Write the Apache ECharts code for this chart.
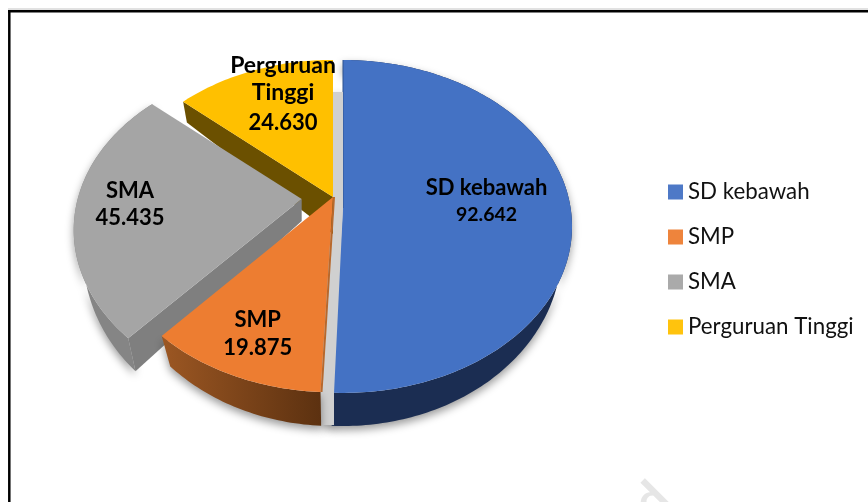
<!DOCTYPE html>
<html>
<head>
<meta charset="utf-8">
<style>
  html, body { margin: 0; padding: 0; background: #fff; }
  #chart { width: 868px; height: 502px; }
</style>
<script src="https://cdn.jsdelivr.net/npm/echarts@6/dist/echarts.min.js"></script>
</head>
<body>
<div id="chart"></div>
<script>
const categories = ['SD kebawah', 'SMP', 'SMA', 'Perguruan Tinggi']
const values = [92642, 19875, 45435, 24630]

const topColors = ['#4472c4', '#ed7d31', '#a5a5a5', '#ffc000']
const seriesOrder = [2, 5, 4, 3] // who is painted over who

// each slice is exploded by hand, with its own perspective fit
const sliceLayout = [
  { cx: 343, cy: 208, s: 227.6, b: 164.4, k: 0.111, dy: 22, fx: 0.955, fy: 1.06 },
  { cx: 333, cy: 197, s: 227.5, b: 165.4, k: 0.153, dy: 22, fx: 0.95, fy: 1.06 },
  { cx: 301.7, cy: 199, s: 224, b: 161, k: 0.186, dy: 22, fx: 0.958, fy: 1.08 },
  { cx: 333, cy: 197, s: 222, b: 160, k: 0.167, dy: 37, fx: 0.975, fy: 1.17 }
]
const sideFills = [
  '#1b2d52',
  { type: 'linear', x: 0, y: 0, x2: 1, y2: 0, colorStops: [{ offset: 0, color: '#9c5723' }, { offset: 1, color: '#5c3110' }] },
  '#858585',
  '#6b5000'
]
const cutFills = [null, null, '#7f7f7f', '#6b5000']
const edgeLines = [{ color: '#2f528f', width: 1, shift: 0 }, { color: '#b8682c', width: 2, shift: 1 }, null, null]
const labelLayout = [
  { x: 486.5, nameY: [188], valueY: 215, nameSize: 22, valueSize: 19.5 },
  { x: 257.7, nameY: [320], valueY: 348, nameSize: 22, valueSize: 22 },
  { x: 130, nameY: [191], valueY: 218, nameSize: 22, valueSize: 22 },
  { x: 283, nameY: [66, 93], valueY: 123, nameSize: 23, valueSize: 22 }
]
const labelLines = [['SD kebawah'], ['SMP'], ['SMA'], ['Perguruan', 'Tinggi']]

const total = values.reduce((a, b) => a + b, 0)
const RAD = Math.PI / 180
const stripPoints = [[333, 92], [343, 92], [343, 208], [334, 393], [334, 425], [322, 425], [320, 390], [333, 197]]

function startAngle(idx) {
  let sum = 0
  for (let i = 0; i < idx; i++) sum += values[i]
  return (sum / total) * 360
}

function project(l, deg, bottom) {
  const u = Math.sin(deg * RAD)
  const v = -Math.cos(deg * RAD)
  const d = 1 - l.k * v
  const x = (u * l.s) / d
  const y = (v * l.b) / d
  if (bottom) return [l.cx + x * l.fx, l.cy + l.dy + y * l.fy]
  return [l.cx + x, l.cy + y]
}

function arc(l, from, to, bottom) {
  const pts = []
  const n = Math.ceil(to - from)
  for (let i = 0; i <= n; i++) pts.push(project(l, from + ((to - from) * i) / n, bottom))
  return pts
}

function textEl(text, x, y, size) {
  return {
    type: 'text',
    style: {
      text: text,
      x: x,
      y: y,
      align: 'center',
      verticalAlign: 'middle',
      fill: '#000',
      font: 'bold ' + size + 'px Lato'
    },
    z2: 10
  }
}

function renderSlice(idx) {
  const l = sliceLayout[idx]
  const from = startAngle(idx)
  const to = from + (values[idx] / total) * 360
  const children = []
  const shadow = { shadowBlur: 9, shadowOffsetY: 4, shadowColor: 'rgba(0,0,0,0.4)' }

  const top = arc(l, from, to, false)
  const low = arc(l, from, to, true).reverse()
  if (idx !== 3) {
    children.push({
      type: 'polygon',
      shape: { points: top.concat(low) },
      style: Object.assign({ fill: sideFills[idx] }, shadow),
      z2: 2
    })
  }
  if (cutFills[idx]) {
    children.push({
      type: 'polygon',
      shape: { points: [[l.cx, l.cy], project(l, from, false), project(l, from, true), [l.cx, l.cy + l.dy]] },
      style: { fill: cutFills[idx] },
      z2: 3
    })
  }
  children.push({
    type: 'polygon',
    shape: { points: [[l.cx, l.cy]].concat(top) },
    style: { fill: topColors[idx] },
    z2: 4
  })
  if (edgeLines[idx]) {
    const e = edgeLines[idx]
    const p = project(l, from, false)
    children.push({
      type: 'line',
      shape: { x1: l.cx + e.shift, y1: l.cy, x2: p[0] + e.shift, y2: p[1] },
      style: { stroke: e.color, lineWidth: e.width },
      z2: 5
    })
  }

  // light strip in the gap next to the big slice, goes over the slice's own edge
  if (idx === 0) {
    children.push({ type: 'polygon', shape: { points: stripPoints }, style: Object.assign({ fill: '#d0d0d0' }, shadow), z2: 1 })
    children.push({ type: 'polygon', shape: { points: stripPoints }, style: { fill: '#d0d0d0' }, z2: 6 })
  }

  const lay = labelLayout[idx]
  labelLines[idx].forEach((t, i) => {
    children.push(textEl(t, lay.x, lay.nameY[i], lay.nameSize))
  })
  children.push(textEl((values[idx] / 1000).toFixed(3), lay.x, lay.valueY, lay.valueSize))
  return { type: 'group', children }
}

const chart = echarts.init(document.getElementById('chart'))
chart.setOption({
  animation: false,
  backgroundColor: '#fff',
  legend: {
    orient: 'vertical',
    left: 668,
    top: 181,
    padding: 0,
    itemWidth: 15,
    itemHeight: 15,
    itemGap: 23,
    itemStyle: { opacity: 0.95 },
    icon: 'rect',
    data: categories,
    textStyle: { fontFamily: 'Lato', fontSize: 22.3, color: '#111' }
  },
  graphic: [
    { type: 'line', shape: { x1: 8, y1: 9, x2: 868, y2: 9 }, style: { stroke: '#c4c4c4', lineWidth: 1 } },
    { type: 'line', shape: { x1: 8, y1: 11.3, x2: 868, y2: 11.3 }, style: { stroke: '#000', lineWidth: 2.5 } },
    { type: 'line', shape: { x1: 9.3, y1: 10, x2: 9.3, y2: 502 }, style: { stroke: '#000', lineWidth: 2.5 } },
    // scan watermark at the bottom edge
    {
      type: 'text',
      x: 652,
      y: 501,
      rotation: Math.PI / 4,
      silent: true,
      style: { text: 'd', align: 'center', verticalAlign: 'middle', fill: '#e6e6e6', font: 'bold 50px Lato' }
    }
  ],
  series: categories.map((name, idx) => ({
    type: 'custom',
    name: name,
    coordinateSystem: 'none',
    z: seriesOrder[idx],
    itemStyle: { color: topColors[idx] },
    data: [[values[idx]]],
    renderItem: () => renderSlice(idx)
  }))
})
</script>
</body>
</html>
